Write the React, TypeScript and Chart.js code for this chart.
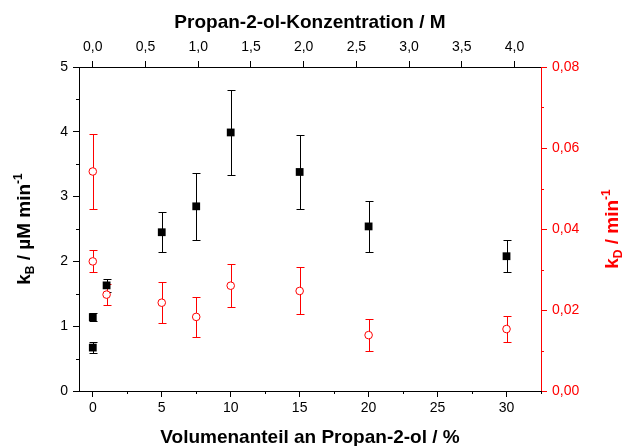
import React, { useEffect, useRef } from 'react';
import { Chart, registerables } from 'chart.js';

Chart.register(...registerables);

// ---- data ----
const volPercentB = [0, 0, 1, 5, 7.5, 10, 15, 20, 30];
const kB = [0.67, 1.14, 1.63, 2.45, 2.85, 3.99, 3.38, 2.54, 2.08];
const kBErr = [0.09, 0.06, 0.1, 0.31, 0.52, 0.65, 0.57, 0.39, 0.25];

const volPercentD = [0, 0, 1, 5, 7.5, 10, 15, 20, 30];
const kD = [0.0542, 0.032, 0.0238, 0.0218, 0.0183, 0.026, 0.0247, 0.0138, 0.0153];
const kDErr = [0.0093, 0.0027, 0.0025, 0.005, 0.005, 0.0053, 0.0058, 0.0039, 0.0032];

// ---- axes ----
const xTicks = [0, 5, 10, 15, 20, 25, 30];
const xMinor = [2.5, 7.5, 12.5, 17.5, 22.5, 27.5, 32.5];
const topTicks = [0, 0.5, 1.0, 1.5, 2.0, 2.5, 3.0, 3.5, 4.0];
const yTicks = [0, 1, 2, 3, 4, 5];
const yMinor = [0.5, 1.5, 2.5, 3.5, 4.5];
const y2Ticks = [0, 0.02, 0.04, 0.06, 0.08];
const y2Minor = [0.01, 0.03, 0.05, 0.07];
const X_MIN = -1;
const X_MAX = 32.5;
const PERCENT_PER_MOLAR = 7.645;

const FONT = '"Liberation Sans", Arial, Helvetica, sans-serif';
const RED = '#ff0000';

const fmt = (v: number, d: number) => v.toFixed(d).replace('.', ',');

const errorBarPlugin = {
  id: 'errorBars',
  beforeDatasetsDraw(chart: any) {
    const ctx = chart.ctx;
    chart.data.datasets.forEach((ds: any, di: number) => {
      const meta = chart.getDatasetMeta(di);
      const xs = chart.scales[meta.xAxisID];
      const ys = chart.scales[meta.yAxisID];
      ctx.save();
      ctx.strokeStyle = ds.errorColor;
      ctx.lineWidth = 1;
      ds.data.forEach((p: any, i: number) => {
        const e = ds.errors[i];
        const px = Math.round(xs.getPixelForValue(p.x)) + 0.5;
        const top = Math.round(ys.getPixelForValue(p.y + e)) + 0.5;
        const bot = Math.round(ys.getPixelForValue(p.y - e)) + 0.5;
        const w = 4;
        ctx.beginPath();
        ctx.moveTo(px, top);
        ctx.lineTo(px, bot);
        ctx.moveTo(px - w, top);
        ctx.lineTo(px + w, top);
        ctx.moveTo(px - w, bot);
        ctx.lineTo(px + w, bot);
        ctx.stroke();
      });
      ctx.restore();
    });
  },
};

function drawRich(ctx: any, parts: { t: string; size: number; dy: number }[], cx: number, cy: number, rot: number, color: string) {
  ctx.save();
  ctx.translate(cx, cy);
  ctx.rotate(rot);
  ctx.fillStyle = color;
  ctx.textBaseline = 'alphabetic';
  ctx.textAlign = 'left';
  let total = 0;
  const widths = parts.map((p) => {
    ctx.font = `bold ${p.size}px ${FONT}`;
    const w = ctx.measureText(p.t).width;
    total += w;
    return w;
  });
  let x = -total / 2;
  parts.forEach((p, i) => {
    ctx.font = `bold ${p.size}px ${FONT}`;
    ctx.fillText(p.t, x, 7 + p.dy);
    x += widths[i];
  });
  ctx.restore();
}

const decorPlugin = {
  id: 'decor',
  afterDraw(chart: any) {
    const ctx = chart.ctx;
    const { x, y, y2 } = chart.scales;
    const area = chart.chartArea;
    ctx.save();
    ctx.lineWidth = 1;
    // minor ticks
    ctx.strokeStyle = '#000';
    ctx.beginPath();
    xMinor.forEach((v) => {
      const px = Math.round(x.getPixelForValue(v)) + 0.5;
      ctx.moveTo(px, area.bottom);
      ctx.lineTo(px, area.bottom + 3);
    });
    yMinor.forEach((v) => {
      const py = Math.round(y.getPixelForValue(v)) + 0.5;
      ctx.moveTo(area.left, py);
      ctx.lineTo(area.left - 3, py);
    });
    ctx.stroke();
    ctx.strokeStyle = RED;
    ctx.beginPath();
    y2Minor.forEach((v) => {
      const py = Math.round(y2.getPixelForValue(v)) + 0.5;
      ctx.moveTo(area.right, py);
      ctx.lineTo(area.right + 3, py);
    });
    ctx.stroke();

    // titles
    ctx.fillStyle = '#000';
    ctx.font = `bold 19px ${FONT}`;
    ctx.textAlign = 'center';
    ctx.textBaseline = 'alphabetic';
    const cx = (area.left + area.right) / 2;
    ctx.fillText('Volumenanteil an Propan-2-ol / %', cx, 443);
    ctx.fillText('Propan-2-ol-Konzentration / M', cx, 28);
    ctx.restore();

    const cy = (area.top + area.bottom) / 2;
    drawRich(
      ctx,
      [
        { t: 'k', size: 19, dy: 0 },
        { t: 'B', size: 12, dy: 4 },
        { t: ' / \u00b5M min', size: 19, dy: 0 },
        { t: '-1', size: 12, dy: -8 },
      ],
      23,
      cy,
      -Math.PI / 2,
      '#000'
    );
    drawRich(
      ctx,
      [
        { t: 'k', size: 19, dy: 0 },
        { t: 'D', size: 12, dy: 4 },
        { t: ' / min', size: 19, dy: 0 },
        { t: '-1', size: 12, dy: -8 },
      ],
      611,
      cy,
      -Math.PI / 2,
      RED
    );
  },
};

function axisBase(color: string) {
  return {
    type: 'linear' as const,
    bounds: 'data' as const,
    grid: {
      display: true,
      drawOnChartArea: false,
      drawTicks: true,
      tickLength: 6,
      tickColor: color,
      tickWidth: 1,
    },
    border: { display: true, color, width: 1 },
  };
}

export default function App() {
  const ref = useRef<HTMLCanvasElement>(null);
  useEffect(() => {
    if (!ref.current) return;
    const chart = new Chart(ref.current, {
      type: 'scatter',
      data: {
        datasets: [
          {
            label: 'kB',
            data: volPercentB.map((v, i) => ({ x: v, y: kB[i] })),
            xAxisID: 'x',
            yAxisID: 'y',
            pointStyle: 'rect',
            pointRadius: 5.5,
            backgroundColor: '#000',
            borderColor: '#000',
            borderWidth: 0,
            showLine: false,
            errors: kBErr,
            errorColor: '#000',
          } as any,
          {
            label: 'kD',
            data: volPercentD.map((v, i) => ({ x: v, y: kD[i] })),
            xAxisID: 'x',
            yAxisID: 'y2',
            pointStyle: 'circle',
            pointRadius: 3.8,
            backgroundColor: '#fff',
            borderColor: RED,
            borderWidth: 1,
            showLine: false,
            errors: kDErr,
            errorColor: RED,
          } as any,
        ],
      },
      options: {
        responsive: false,
        animation: false,
        events: [],
        devicePixelRatio: 1,
        layout: { padding: 0 },
        plugins: { legend: { display: false }, tooltip: { enabled: false }, title: { display: false } },
        scales: {
          x: {
            ...axisBase('#000'),
            axis: 'x',
            position: 'bottom',
            min: X_MIN,
            max: X_MAX,
            afterBuildTicks: (s: any) => {
              s.ticks = xTicks.map((v) => ({ value: v }));
            },
            afterFit: (s: any) => {
              s.height = 55;
            },
            ticks: {
              color: '#000',
              font: { family: FONT, size: 14 },
              padding: 3,
              maxRotation: 0,
              autoSkip: false,
              callback: (v: any) => String(v),
            },
          },
          x2: {
            ...axisBase('#000'),
            axis: 'x',
            position: 'top',
            min: X_MIN / PERCENT_PER_MOLAR,
            max: X_MAX / PERCENT_PER_MOLAR,
            afterBuildTicks: (s: any) => {
              s.ticks = topTicks.map((v) => ({ value: v }));
            },
            afterFit: (s: any) => {
              s.height = 67;
            },
            ticks: {
              color: '#000',
              font: { family: FONT, size: 14 },
              padding: 5,
              maxRotation: 0,
              autoSkip: false,
              callback: (v: any) => fmt(Number(v), 1),
            },
          },
          y: {
            ...axisBase('#000'),
            axis: 'y',
            position: 'left',
            min: 0,
            max: 5,
            afterBuildTicks: (s: any) => {
              s.ticks = yTicks.map((v) => ({ value: v }));
            },
            afterFit: (s: any) => {
              s.width = 79;
            },
            ticks: {
              color: '#000',
              font: { family: FONT, size: 14 },
              padding: 5,
              autoSkip: false,
              callback: (v: any) => String(v),
            },
          },
          y2: {
            ...axisBase(RED),
            axis: 'y',
            position: 'right',
            min: 0,
            max: 0.08,
            afterBuildTicks: (s: any) => {
              s.ticks = y2Ticks.map((v) => ({ value: v }));
            },
            afterFit: (s: any) => {
              s.width = 85;
            },
            ticks: {
              color: RED,
              font: { family: FONT, size: 14 },
              padding: 5,
              autoSkip: false,
              callback: (v: any) => fmt(Number(v), 2),
            },
          },
        } as any,
      },
      plugins: [errorBarPlugin, decorPlugin],
    });
    return () => chart.destroy();
  }, []);

  return (
    <div style={{ position: 'fixed', left: 0, top: 0, width: 626, height: 446, background: '#fff' }}>
      <canvas ref={ref} width={626} height={446} style={{ display: 'block' }} />
    </div>
  );
}
